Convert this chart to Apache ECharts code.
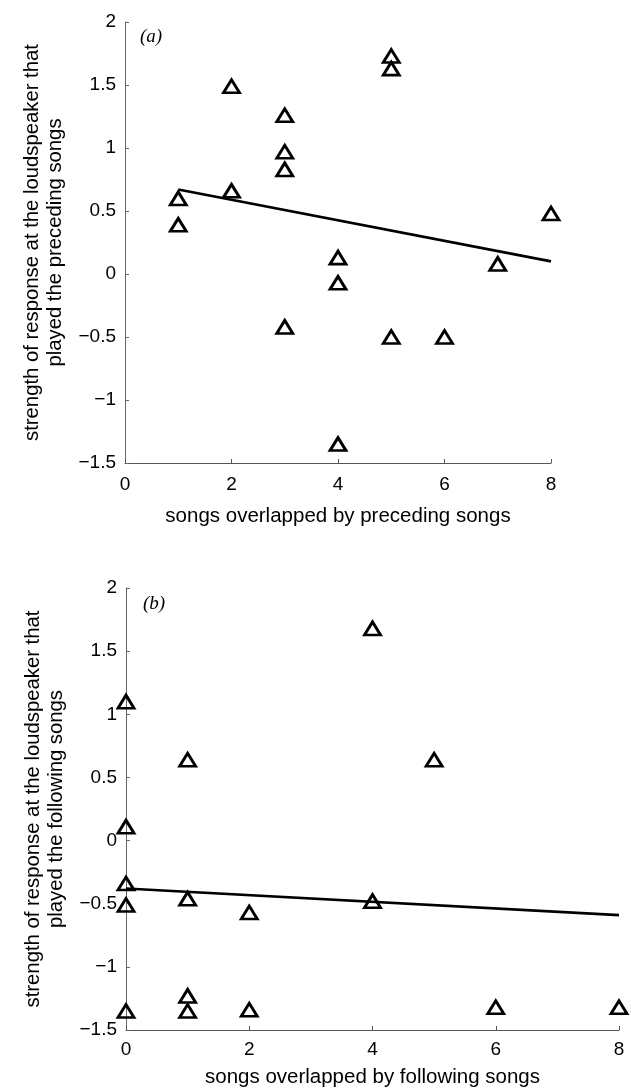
<!DOCTYPE html>
<html>
<head>
<meta charset="utf-8">
<script src="https://cdn.jsdelivr.net/npm/echarts@6/dist/echarts.min.js"></script>
<style>
html,body{margin:0;padding:0;background:#fff;}
#chart{width:631px;height:1091px;}
</style>
</head>
<body>
<div id="chart"></div>
<script>
// Panel (a): songs overlapped by preceding songs
const xA = [1, 1, 2, 2, 3, 3, 3, 3, 4, 4, 4, 5, 5, 5, 6, 7, 8];
const yA = [0.60, 0.39, 1.49, 0.66, 1.26, 0.97, 0.83, -0.42, 0.13, -0.07, -1.35, 1.73, 1.63, -0.50, -0.50, 0.08, 0.48];
const fitAx = [1, 8];
const fitAy = [0.67, 0.10];

// Panel (b): songs overlapped by following songs
const xB = [0, 0, 0, 0, 0, 1, 1, 1, 1, 2, 2, 4, 4, 5, 6, 8];
const yB = [1.10, 0.11, -0.34, -0.51, -1.35, 0.64, -0.46, -1.23, -1.35, -0.57, -1.34, 1.68, -0.48, 0.64, -1.32, -1.32];
const fitBx = [0, 8];
const fitBy = [-0.38, -0.59];

const xTicks = [0, 2, 4, 6, 8];
const yTicks = [-1.5, -1, -0.5, 0, 0.5, 1, 1.5, 2];

const xNameA = 'songs overlapped by preceding songs';
const xNameB = 'songs overlapped by following songs';
const yNameA = 'strength of response at the loudspeaker that\nplayed the preceding songs';
const yNameB = 'strength of response at the loudspeaker that\nplayed the following songs';

const zip = (xs, ys) => xs.map((x, i) => [x, ys[i]]);
const FONT = 'Liberation Sans, Arial, sans-serif';
const fmtY = v => String(v).replace('-', '\u2212');

function xAxis(idx, name, gap, margin) {
  return {
    type: 'value', gridIndex: idx, min: xTicks[0], max: xTicks[xTicks.length - 1], interval: 2,
    name: name, nameLocation: 'middle', nameGap: gap,
    nameTextStyle: {color: '#000', fontSize: 20.5, fontFamily: FONT},
    axisLine: {show: true, onZero: false, lineStyle: {color: '#555', width: 1}},
    axisTick: {show: true, inside: true, length: 4, lineStyle: {color: '#555'}},
    axisLabel: {color: '#000', fontSize: 19, fontFamily: FONT, margin: margin},
    splitLine: {show: false}
  };
}
function yAxis(idx, name) {
  return {
    type: 'value', gridIndex: idx, min: yTicks[0], max: yTicks[yTicks.length - 1], interval: 0.5,
    name: name, nameLocation: 'middle', nameGap: 58, nameRotate: 90,
    nameTextStyle: {color: '#000', fontSize: 20.3, fontFamily: FONT, lineHeight: 23},
    axisLine: {show: true, onZero: false, lineStyle: {color: '#666', width: 1}},
    axisTick: {show: true, inside: true, length: 4, lineStyle: {color: '#666'}},
    axisLabel: {color: '#000', fontSize: 19, fontFamily: FONT, margin: 9, formatter: fmtY},
    splitLine: {show: false}
  };
}
const tri = {
  type: 'scatter', symbol: 'triangle', symbolSize: [16, 13],
  itemStyle: {color: 'rgba(255,255,255,0)', borderColor: '#000', borderWidth: 2.8, opacity: 1},
  z: 3
};
const fit = {
  type: 'line', showSymbol: false, symbol: 'none',
  lineStyle: {color: '#000', width: 2.6}, z: 2
};

const chart = echarts.init(document.getElementById('chart'), null, {renderer: 'canvas'});
chart.setOption({
  animation: false,
  backgroundColor: '#fff',
  title: [
    {text: '(a)', left: 135, top: 22, textStyle: {fontFamily: 'Liberation Serif, Times New Roman, serif', fontStyle: 'italic', fontWeight: 'normal', fontSize: 19, color: '#000'}},
    {text: '(b)', left: 138, top: 589, textStyle: {fontFamily: 'Liberation Serif, Times New Roman, serif', fontStyle: 'italic', fontWeight: 'normal', fontSize: 19, color: '#000'}}
  ],
  grid: [
    {left: 125, top: 22, width: 426, height: 441},
    {left: 126, top: 588, width: 493, height: 442}
  ],
  xAxis: [xAxis(0, xNameA, 43, 12), xAxis(1, xNameB, 37, 10)],
  yAxis: [yAxis(0, yNameA), yAxis(1, yNameB)],
  series: [
    Object.assign({}, fit, {xAxisIndex: 0, yAxisIndex: 0, data: zip(fitAx, fitAy)}),
    Object.assign({}, tri, {xAxisIndex: 0, yAxisIndex: 0, data: zip(xA, yA)}),
    Object.assign({}, fit, {xAxisIndex: 1, yAxisIndex: 1, data: zip(fitBx, fitBy)}),
    Object.assign({}, tri, {xAxisIndex: 1, yAxisIndex: 1, data: zip(xB, yB)})
  ]
});
</script>
</body>
</html>
